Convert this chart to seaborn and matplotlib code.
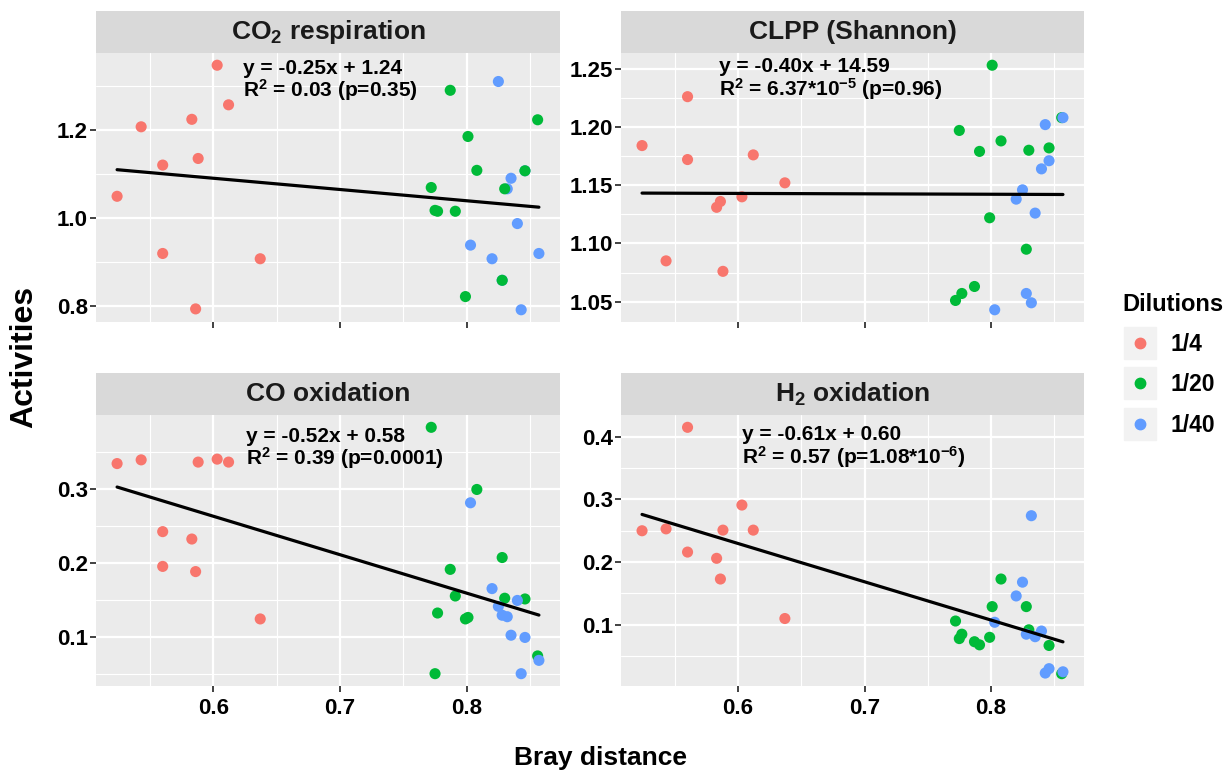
import numpy as np
import pandas as pd
import matplotlib
matplotlib.use("Agg")
import matplotlib.pyplot as plt
import seaborn as sns
from matplotlib.ticker import MultipleLocator
from matplotlib.patches import Rectangle
from matplotlib.lines import Line2D
from matplotlib.legend_handler import HandlerTuple

# ---------------- data ----------------
dilutions = ["1/4", "1/20", "1/40"]
colors = ["#F8766D", "#00BA38", "#619CFF"]

red_x = [0.524, 0.543, 0.560, 0.560, 0.583, 0.586, 0.588, 0.603, 0.612, 0.637]
green_x = [0.772, 0.775, 0.777, 0.787, 0.791, 0.799, 0.801, 0.808, 0.828, 0.830, 0.846, 0.856]
blue_x = [0.803, 0.820, 0.825, 0.828, 0.832, 0.835, 0.840, 0.843, 0.846, 0.857]

co2_red = [1.049, 1.207, 1.120, 0.919, 1.224, 0.793, 1.135, 1.347, 1.257, 0.907]
co2_green = [1.069, 1.017, 1.015, 1.290, 1.015, 0.821, 1.185, 1.108, 0.858, 1.066, 1.107, 1.223]
co2_blue = [0.938, 0.907, 1.310, 0.858, 1.066, 1.090, 0.987, 0.791, 1.107, 0.919]

clpp_red = [1.184, 1.085, 1.226, 1.172, 1.131, 1.136, 1.076, 1.140, 1.176, 1.152]
clpp_green = [1.051, 1.197, 1.057, 1.063, 1.179, 1.122, 1.253, 1.188, 1.095, 1.180, 1.182, 1.208]
clpp_blue = [1.043, 1.138, 1.146, 1.057, 1.049, 1.126, 1.164, 1.202, 1.171, 1.208]

co_red = [0.334, 0.339, 0.242, 0.195, 0.232, 0.188, 0.336, 0.340, 0.336, 0.124]
co_green = [0.383, 0.050, 0.132, 0.191, 0.155, 0.124, 0.126, 0.299, 0.207, 0.152, 0.151, 0.074]
co_blue = [0.281, 0.165, 0.141, 0.129, 0.127, 0.102, 0.149, 0.050, 0.099, 0.068]

h2_red = [0.250, 0.253, 0.216, 0.415, 0.206, 0.173, 0.251, 0.291, 0.251, 0.110]
h2_green = [0.106, 0.078, 0.085, 0.073, 0.068, 0.080, 0.129, 0.173, 0.129, 0.092, 0.067, 0.022]
h2_blue = [0.104, 0.146, 0.168, 0.085, 0.274, 0.081, 0.090, 0.023, 0.030, 0.025]

panel_titles = ["CO$_{2}$ respiration", "CLPP (Shannon)", "CO oxidation", "H$_{2}$ oxidation"]
eq_lines = ["y = -0.25x + 1.24", "y = -0.40x + 14.59", "y = -0.52x + 0.58", "y = -0.61x + 0.60"]
r2_lines = ["R$^{2}$ = 0.03 (p=0.35)", "R$^{2}$ = 6.37*10$^{-5}$ (p=0.96)",
            "R$^{2}$ = 0.39 (p=0.0001)", "R$^{2}$ = 0.57 (p=1.08*10$^{-6}$)"]
y_major = [0.2, 0.05, 0.1, 0.1]
y_fmt = ["%.1f", "%.2f", "%.1f", "%.1f"]
# drawing order of the groups in each panel (later = on top)
draw_order = [["1/40", "1/4", "1/20"], dilutions, dilutions, dilutions]

panel_values = [
    (co2_red, co2_green, co2_blue),
    (clpp_red, clpp_green, clpp_blue),
    (co_red, co_green, co_blue),
    (h2_red, h2_green, h2_blue),
]

rows = []
for p, (r, g, b) in enumerate(panel_values):
    for xs, ys, d in ((red_x, r, dilutions[0]), (green_x, g, dilutions[1]), (blue_x, b, dilutions[2])):
        for xv, yv in zip(xs, ys):
            rows.append(dict(panel=p, bray=xv, value=yv, dilution=d))
df = pd.DataFrame(rows)

# ---------------- style ----------------
sns.set_theme(style="darkgrid")
plt.rcParams["font.family"] = ["Liberation Sans", "DejaVu Sans"]
plt.rcParams["font.weight"] = "bold"
plt.rcParams["text.color"] = "black"
plt.rcParams["axes.labelcolor"] = "black"
plt.rcParams["mathtext.fontset"] = "custom"
plt.rcParams["mathtext.rm"] = "Liberation Sans:bold"
plt.rcParams["mathtext.it"] = "Liberation Sans:bold"
plt.rcParams["mathtext.bf"] = "Liberation Sans:bold"
plt.rcParams["mathtext.default"] = "rm"

W, H = 1227, 771
fig = plt.figure(figsize=(W / 100, H / 100), dpi=100)

# panel boxes in pixels: left, top, right, bottom
boxes = [(96, 53, 560, 322), (621, 53, 1084, 322), (96, 415, 560, 686), (621, 415, 1084, 686)]
strip_h = 42
text_pos = [(0.317, 0.944, 0.862), (0.212, 0.949, 0.865), (0.323, 0.92, 0.84), (0.262, 0.929, 0.844)]

xmin, xmax = df["bray"].min(), df["bray"].max()
xpad = (xmax - xmin) * 0.05

for p in range(4):
    l, t, r, b = boxes[p]
    ax = fig.add_axes([l / W, 1 - b / H, (r - l) / W, (b - t) / H])
    ax.set_facecolor("#EBEBEB")
    sub = df[df["panel"] == p].copy()
    sub["_o"] = sub["dilution"].map({d: i for i, d in enumerate(draw_order[p])})
    sub = sub.sort_values("_o", kind="stable")
    sns.scatterplot(data=sub, x="bray", y="value", hue="dilution", hue_order=dilutions,
                    palette=colors, s=64, linewidth=0, legend=False, ax=ax, zorder=2)
    sns.regplot(data=sub, x="bray", y="value", scatter=False, ci=None, truncate=True,
                color="black", line_kws=dict(lw=2.3, zorder=3), ax=ax)
    ymin, ymax = sub["value"].min(), sub["value"].max()
    ypad = (ymax - ymin) * 0.05
    ax.set_xlim(xmin - xpad, xmax + xpad)
    ax.set_ylim(ymin - ypad, ymax + ypad)
    ax.xaxis.set_major_locator(MultipleLocator(0.1))
    ax.xaxis.set_minor_locator(MultipleLocator(0.05))
    ax.yaxis.set_major_locator(MultipleLocator(y_major[p]))
    ax.yaxis.set_minor_locator(MultipleLocator(y_major[p] / 2))
    ax.yaxis.set_major_formatter(matplotlib.ticker.FormatStrFormatter(y_fmt[p]))
    ax.xaxis.set_major_formatter(matplotlib.ticker.FormatStrFormatter("%.1f"))
    ax.grid(which="major", color="white", lw=1.6)
    ax.grid(which="minor", color="white", lw=0.8)
    ax.set_axisbelow(True)
    for s in ax.spines.values():
        s.set_visible(False)
    ax.tick_params(axis="both", which="major", length=4, width=1.3, color="#333333",
                   labelsize=16, labelcolor="black", pad=2, bottom=True, left=True)
    ax.tick_params(axis="x", which="major", pad=5)
    ax.tick_params(axis="both", which="minor", length=0)
    for lab in ax.get_xticklabels() + ax.get_yticklabels():
        lab.set_fontweight("bold")
    if p < 2:
        ax.tick_params(axis="x", labelbottom=False)
    ax.set_xlabel("")
    ax.set_ylabel("")
    # strip
    sh = strip_h / (b - t)
    ax.add_patch(Rectangle((0, 1.0), 1, sh, transform=ax.transAxes, facecolor="#D9D9D9",
                           edgecolor="none", clip_on=False))
    ax.text(0.5, 1 + sh / 2, panel_titles[p], transform=ax.transAxes, ha="center", va="center",
            fontsize=19, fontweight="bold", color="#1A1A1A")
    tx, ty1, ty2 = text_pos[p]
    ax.text(tx, ty1, eq_lines[p], transform=ax.transAxes, ha="left", va="center",
            fontsize=15, fontweight="bold", color="black")
    ax.text(tx, ty2, r2_lines[p], transform=ax.transAxes, ha="left", va="center",
            fontsize=15, fontweight="bold", color="black")

fig.text(24 / W, 1 - 357 / H, "Activities", rotation=90, ha="center", va="center",
         fontsize=23, fontweight="bold")
fig.text(600 / W, 1 - 758 / H, "Bray distance", ha="center", va="center",
         fontsize=19, fontweight="bold")

handles = []
for c in colors:
    bg = Line2D([], [], marker="s", markersize=23, color="#F2F2F2", linestyle="none")
    dot = Line2D([], [], marker="o", markersize=7.5, color=c, linestyle="none")
    handles.append((bg, dot))
leg = fig.legend(handles, dilutions, title="Dilutions", loc="upper left",
                 bbox_to_anchor=(1102 / W, 1 - 272 / H), frameon=False,
                 handler_map={tuple: HandlerTuple(ndivide=1)},
                 fontsize=16.5, title_fontproperties=dict(size=17, weight="bold"),
                 labelspacing=0.76, handlelength=1.5, handletextpad=0.6, alignment="left")
for txt in leg.get_texts():
    txt.set_fontweight("bold")

fig.savefig("out.png", dpi=100, facecolor="white")
